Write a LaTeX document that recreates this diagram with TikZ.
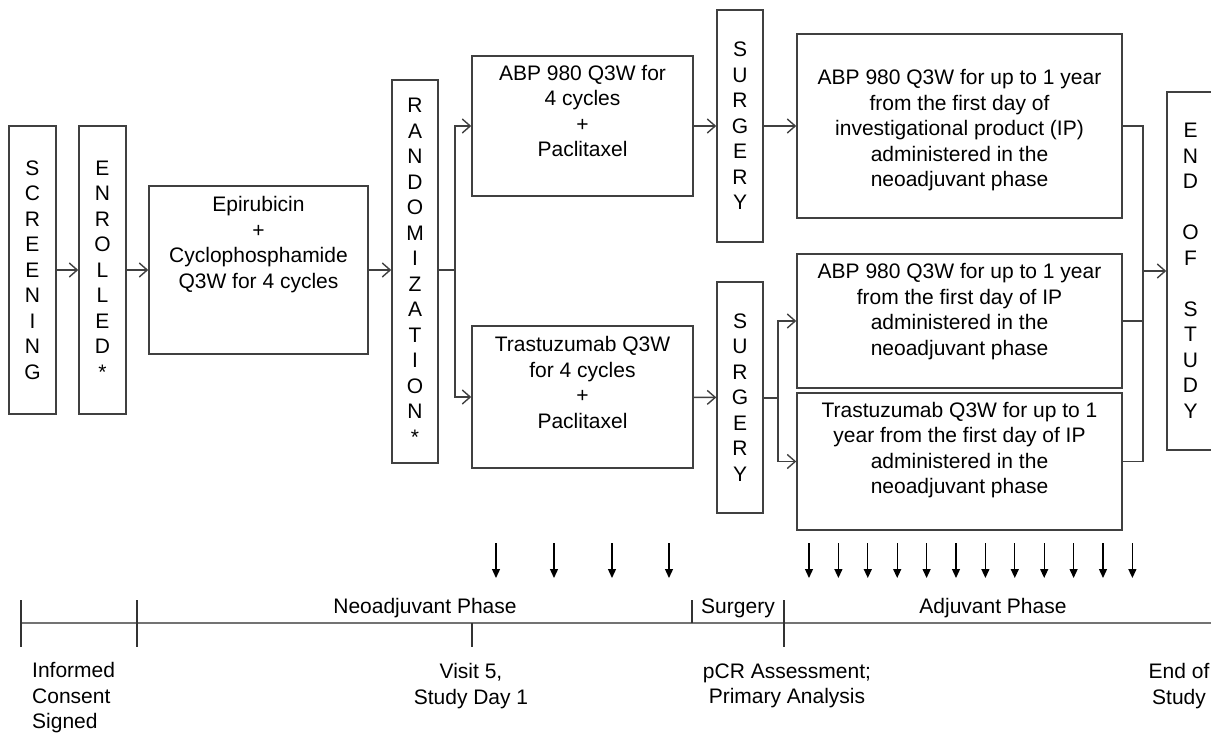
\documentclass[tikz,border=0pt]{standalone}
\usepackage{fontspec}
\setmainfont{Liberation Sans}
\usetikzlibrary{arrows.meta}

\tikzset{
  box/.style={draw=black!75, line width=1.4pt, inner sep=0pt},
  txt/.style={font=\fontsize{21}{25.5}\selectfont, align=center, inner sep=0pt},
  link/.style={draw=black!75, line width=1.4pt},
  axis/.style={draw=black!55, line width=2pt},
  tick/.style={draw=black!80, line width=1.4pt},
  visit/.style={-{Triangle[length=9pt,width=8pt]}, line width=1.3pt},
}

\begin{document}
\begin{tikzpicture}[x=1pt, y=-1pt, >={Straight Barb[length=8pt,width=14pt]}]
    \useasboundingbox (0,0) rectangle (1211,733);

    % Boxes
    \node[box, txt, minimum width=47pt, minimum height=288pt] (screen) at (32.5,270) {S\\C\\R\\E\\E\\N\\I\\N\\G};
    \node[box, txt, minimum width=47pt, minimum height=288pt] (enrol) at (102.5,270) {E\\N\\R\\O\\L\\L\\E\\D\\*};
    \node[box, minimum width=219pt, minimum height=168pt] (epi) at (258.5,270) {};
    \node[txt] (epi-t) at (258.5,244.5) {Epirubicin\\+\\Cyclophosphamide\\Q3W for 4 cycles};
    \node[box, txt, minimum width=46pt, minimum height=383pt] (rand) at (415,271.5) {R\\A\\N\\D\\O\\M\\I\\Z\\A\\T\\I\\O\\N\\*};

    \node[box, minimum width=221pt, minimum height=140pt] (abp4) at (582.5,126) {};
    \node[txt] (abp4-t) at (582.5,111) {ABP 980 Q3W for\\4 cycles\\+\\Paclitaxel};
    \node[box, minimum width=221pt, minimum height=142pt] (tras4) at (582.5,397) {};
    \node[txt] (tras4-t) at (582.5,382.5) {Trastuzumab Q3W\\for 4 cycles\\+\\Paclitaxel};

    \node[box, txt, minimum width=46pt, minimum height=232pt] (surg1) at (740,126) {S\\U\\R\\G\\E\\R\\Y};
    \node[box, txt, minimum width=46pt, minimum height=231pt] (surg2) at (740,397.5) {S\\U\\R\\G\\E\\R\\Y};

    \node[box, minimum width=325pt, minimum height=184pt] (adj1) at (959.5,126) {};
    \node[txt] (adj1-t) at (959.5,130.5) {ABP 980 Q3W for up to 1 year\\from the first day of\\investigational product (IP)\\administered in the\\neoadjuvant phase};
    \node[box, minimum width=325pt, minimum height=134pt] (adj2) at (959.5,321) {};
    \node[txt] (adj2-t) at (959.5,311.5) {ABP 980 Q3W for up to 1 year\\from the first day of IP\\administered in the\\neoadjuvant phase};
    \node[box, minimum width=325pt, minimum height=137pt] (adj3) at (959.5,461.5) {};
    \node[txt] (adj3-t) at (959.5,450) {Trastuzumab Q3W for up to 1\\year from the first day of IP\\administered in the\\neoadjuvant phase};

    \node[box, txt, minimum width=47pt, minimum height=358pt] (eos) at (1190.5,271) {E\\N\\D\\[25.5pt]O\\F\\[25.5pt]S\\T\\U\\D\\Y};

    % Connectors
    \draw[link, ->] (screen) -- (enrol);
    \draw[link, ->] (enrol) -- (epi);
    \draw[link, ->] (epi.east) -- (epi.east -| rand.west);
    \coordinate (rsplit) at (455,270);
    \draw[link] (epi.east -| rand.east) -- (rsplit);
    \draw[link, ->] (rsplit) |- (abp4);
    \draw[link, ->] (rsplit) |- (tras4);
    \draw[link, ->] (abp4) -- (surg1);
    \draw[link, ->] (surg1) -- (adj1);
    \draw[link, ->] (tras4) -- (surg2);
    \coordinate (ssplit) at (778,398);
    \draw[link] (surg2.east |- ssplit) -- (ssplit);
    \draw[link, ->] (ssplit) |- (adj2);
    \draw[link, ->] (ssplit) |- (adj3);
    \coordinate (merge) at (1143,271);
    \draw[link] (adj1) -| (merge);
    \draw[link] (adj2) -| (merge);
    \draw[link] (adj3) -| (merge);
    \draw[link, ->] (merge) -- (eos);

    % Visits
    \foreach \x in {496,554,612,669}
        \draw[visit] (\x,543) -- (\x,578);
    \foreach \k in {0,...,11}
        \draw[visit] ({809+29.4*\k},543) -- ({809+29.4*\k},578);

    % Timeline
    \draw[axis] (21,623) -- (1211,623);
    \draw[tick] (21,600) -- (21,647);
    \draw[tick] (137,600) -- (137,647);
    \draw[tick] (472,623) -- (472,647);
    \draw[tick] (692,600) -- (692,623);
    \draw[tick] (784,600) -- (784,647);

    \node[txt] (neo) at (425,608) {Neoadjuvant Phase};
    \node[txt] (surgph) at (738,608) {Surgery};
    \node[txt] (adjph) at (993,608) {Adjuvant Phase};
    \node[txt, align=left, anchor=west] (consent) at (32,698) {Informed\\Consent\\Signed};
    \node[txt] (visit5) at (471,686) {Visit 5,\\Study Day 1};
    \node[txt] (pcr) at (787,686) {pCR Assessment;\\Primary Analysis};
    \node[txt] (eosl) at (1179,686) {End of\\Study};
\end{tikzpicture}
\end{document}
